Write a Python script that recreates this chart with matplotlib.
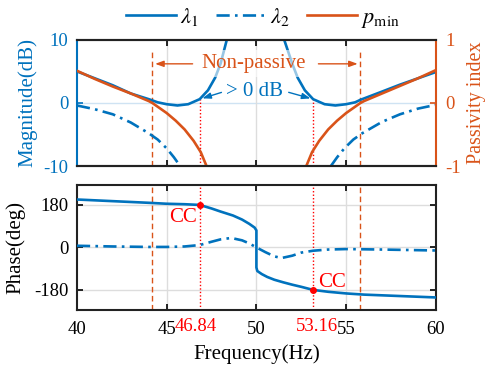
import numpy as np
import matplotlib
matplotlib.use("Agg")
import matplotlib.pyplot as plt
import matplotlib.transforms as mtransforms
from matplotlib.lines import Line2D

plt.rcParams['font.family'] = ['Liberation Serif', 'DejaVu Serif']
plt.rcParams['mathtext.fontset'] = 'stix'

BLUE = '#0072BD'
ORANGE = '#D95319'
RED = '#FF0000'

# ---- magnitude of lambda_1 (dB), two branches (goes off-scale near 50 Hz)
f_mag1_left = [40, 41, 42, 43, 44, 44.5, 45, 45.6, 46.2, 46.84, 47.3, 47.7, 48.0, 48.35]
mag1_left = [5.0, 3.9, 2.8, 1.5, 0.6, 0.1, -0.2, -0.4, -0.2, 0.6, 2.0, 4.0, 6.2, 10.0]
f_mag1_right = [51.55, 52.0, 52.3, 52.7, 53.16, 53.8, 54.4, 55.0, 55.5, 55.8, 57, 58, 59, 60]
mag1_right = [10.0, 6.2, 4.0, 2.0, 0.6, -0.2, -0.4, -0.2, 0.1, 0.5, 1.8, 2.9, 3.9, 4.9]

# ---- magnitude of lambda_2 (dB)
f_mag2_left = [40, 41, 42, 43, 44, 44.5, 45, 45.4, 45.75]
mag2_left = [-0.4, -1.0, -1.8, -3.1, -4.8, -5.8, -7.2, -8.6, -10.0]
f_mag2_right = [54.15, 54.5, 54.9, 55.4, 55.9, 57, 58, 59, 60]
mag2_right = [-10.0, -8.6, -7.2, -5.8, -4.8, -3.0, -1.8, -0.9, -0.3]

# ---- minimum passivity index
f_p_left = [40, 41, 42, 43, 44, 44.2, 44.6, 45, 45.5, 46, 46.5, 46.9, 47.22]
p_left = [0.51, 0.38, 0.26, 0.15, 0.03, 0.0, -0.08, -0.16, -0.28, -0.42, -0.60, -0.78, -1.0]
f_p_right = [52.78, 53.1, 53.5, 54, 54.5, 55, 55.4, 55.8, 56, 57, 58, 59, 60]
p_right = [-1.0, -0.78, -0.60, -0.42, -0.28, -0.16, -0.08, 0.0, 0.03, 0.15, 0.27, 0.39, 0.52]

# ---- phase (deg)
f_ph1 = [40, 42, 44, 45, 46, 46.84, 47.5, 48, 48.7, 49.2, 49.6, 49.9, 50.0, 50.0,
         50.05, 50.3, 50.6, 51, 51.5, 52, 52.5, 53.16, 54, 55, 56, 58, 60]
ph1 = [203, 196, 189, 185, 183, 180, 165, 152, 135, 118, 100, 84, 72, -85,
       -100, -113, -125, -137, -148, -158, -167, -180, -188, -195, -200, -206, -212]
f_ph2 = [40, 42, 44, 45, 46, 46.84, 47.5, 48, 48.6, 49.2, 49.6, 50, 50.5, 51, 51.4,
         52, 52.5, 53.16, 54, 55, 57, 60]
ph2 = [7, 4, 2, 2, 4, 10, 24, 34, 40, 30, 17, 0, -20, -38, -45,
       -35, -22, -14, -9, -7, -9, -13]

f_cc = [46.84, 53.16]
ph_cc = [180, -180]
mag_cc = [0.6, 0.6]
f_np = [44.2, 55.8]

fig = plt.figure(figsize=(4.87, 3.69), dpi=100)
ax1 = fig.add_axes([0.158, 0.550, 0.737, 0.342])
ax1r = ax1.twinx()
ax2 = fig.add_axes([0.158, 0.160, 0.737, 0.339])

lw = 1.9
dashdot = (0, (5, 2, 1, 2))
arrow_kw = '-|>,head_length=0.5,head_width=0.18'

# top panel
ax1.axhline(0, color='#cfe3f3', lw=1.0, zorder=0)
for xv in [45, 50, 55]:
    ax1.axvline(xv, color='#dddddd', lw=1.0, zorder=0)
ax1.plot(f_mag1_left, mag1_left, color=BLUE, lw=lw, zorder=3)
ax1.plot(f_mag1_right, mag1_right, color=BLUE, lw=lw, zorder=3)
ax1.plot(f_mag2_left, mag2_left, color=BLUE, lw=lw, ls=dashdot, zorder=3)
ax1.plot(f_mag2_right, mag2_right, color=BLUE, lw=lw, ls=dashdot, zorder=3)
ax1r.plot(f_p_left, p_left, color=ORANGE, lw=lw)
ax1r.plot(f_p_right, p_right, color=ORANGE, lw=lw)
for xv in f_np:
    ax1.plot([xv, xv], [-10, 8.4], color=ORANGE, lw=1.0, ls=(0, (4, 2.5)), zorder=2)
for xv, mv in zip(f_cc, mag_cc):
    ax1.plot([xv, xv], [-10, mv], color=RED, lw=1.0, ls=(0, (1, 1.5)), zorder=2)

ax1.set_xlim(40, 60)
ax1.set_ylim(-10, 10)
ax1r.set_ylim(-1, 1)
ax1.set_xticks([45, 50, 55])
ax1.set_yticks([-10, 0, 10])
ax1.set_yticklabels(['-10', '0', '10'])
ax1r.set_yticks([-1, 0, 1])
ax1r.set_yticklabels(['-1', '0', '1'])
ax1.tick_params(axis='x', direction='in', top=True, labelbottom=False, length=4, width=1.2)
ax1.tick_params(axis='y', direction='in', colors=BLUE, labelsize=13.5, length=4, width=1.2, pad=6)
ax1r.tick_params(axis='y', direction='in', colors=ORANGE, labelsize=13.5, length=4, width=1.2, pad=7)
for a in (ax1, ax1r):
    for s in a.spines.values():
        s.set_linewidth(1.5)
    a.spines['top'].set_color('#222222')
    a.spines['bottom'].set_color('#222222')
ax1.spines['left'].set_color(BLUE)
ax1.spines['right'].set_visible(False)
ax1r.spines['left'].set_visible(False)
ax1r.spines['right'].set_color(ORANGE)
ax1.set_ylabel('Magnitude(dB)', color=BLUE, fontsize=15)
ax1.yaxis.set_label_coords(-0.111, 0.5)
ax1r.set_ylabel('Passivity index', color=ORANGE, fontsize=14.5)
ax1r.yaxis.set_label_coords(1.087, 0.5)

# annotations in top panel
ax1.text(49.85, 6.2, 'Non-passive', color=ORANGE, fontsize=15, ha='center', va='center',
         zorder=5, bbox=dict(facecolor='white', alpha=0.6, edgecolor='none', pad=3))
ax1.annotate('', xy=(44.2, 6.2), xytext=(46.6, 6.2),
             arrowprops=dict(arrowstyle=arrow_kw, color=ORANGE, lw=1.0), zorder=5)
ax1.annotate('', xy=(55.8, 6.2), xytext=(53.3, 6.2),
             arrowprops=dict(arrowstyle=arrow_kw, color=ORANGE, lw=1.0), zorder=5)
ax1.text(49.9, 1.8, '> 0 dB', color=BLUE, fontsize=15, ha='center', va='center', zorder=5)
ax1.annotate('', xy=(f_cc[0], mag_cc[0]), xytext=(48.2, 1.8),
             arrowprops=dict(arrowstyle=arrow_kw, color=BLUE, lw=1.0), zorder=5)
ax1.annotate('', xy=(f_cc[1], mag_cc[1]), xytext=(51.65, 1.8),
             arrowprops=dict(arrowstyle=arrow_kw, color=BLUE, lw=1.0), zorder=5)

# bottom panel
for yv in [-180, 0, 180]:
    ax2.axhline(yv, color='#dddddd', lw=1.0, zorder=0)
for xv in [45, 50, 55]:
    ax2.axvline(xv, color='#dddddd', lw=1.0, zorder=0)
for xv in f_np:
    ax2.axvline(xv, color=ORANGE, lw=1.0, ls=(0, (4, 2.5)), zorder=2)
for xv in f_cc:
    ax2.axvline(xv, color=RED, lw=1.0, ls=(0, (1, 1.5)), zorder=2)
ax2.plot(f_ph1, ph1, color=BLUE, lw=lw, zorder=3)
ax2.plot(f_ph2, ph2, color=BLUE, lw=lw, ls=dashdot, zorder=3)
ax2.plot(f_cc, ph_cc, 'o', color=RED, ms=4, zorder=4)
ax2.text(45.9, 126, 'CC', color=RED, fontsize=15, ha='center', va='center')
ax2.text(54.2, -147, 'CC', color=RED, fontsize=15, ha='center', va='center')

ax2.set_xlim(40, 60)
ax2.set_ylim(-265, 265)
ax2.set_xticks([40, 45, 50, 55, 60])
ax2.set_yticks([-180, 0, 180])
ax2.set_yticklabels(['-180', '0', '180'])
ax2.tick_params(direction='in', top=True, right=True, labelsize=13.5, length=4, width=1.2)
ax2.tick_params(axis='x', pad=8)
ax2.tick_params(axis='y', pad=6)
for s in ax2.spines.values():
    s.set_linewidth(1.5)
    s.set_color('#222222')
trans = mtransforms.blended_transform_factory(ax2.transData, ax2.transAxes)
ax2.text(46.6, -0.065, '46.84', color=RED, fontsize=13.5, ha='center', va='top', transform=trans)
ax2.text(53.35, -0.065, '53.16', color=RED, fontsize=13.5, ha='center', va='top', transform=trans)
ax2.set_ylabel('Phase(deg)', fontsize=15)
ax2.yaxis.set_label_coords(-0.145, 0.5)
ax2.set_xlabel('Frequency(Hz)', fontsize=15)
ax2.xaxis.set_label_coords(0.5, -0.272)

# legend above the top panel
handles = [Line2D([], [], color=BLUE, lw=lw),
           Line2D([], [], color=BLUE, lw=lw, ls=dashdot),
           Line2D([], [], color=ORANGE, lw=lw)]
labels = [r'$\lambda_1$', r'$\lambda_2$', r'$p_{\rm min}$']
fig.legend(handles, labels, loc='center', bbox_to_anchor=(0.54, 0.952), ncol=3,
           frameon=False, fontsize=16, handlelength=2.25, columnspacing=0.75,
           handletextpad=0.2, borderaxespad=0)

fig.savefig('out.png', dpi=100)
